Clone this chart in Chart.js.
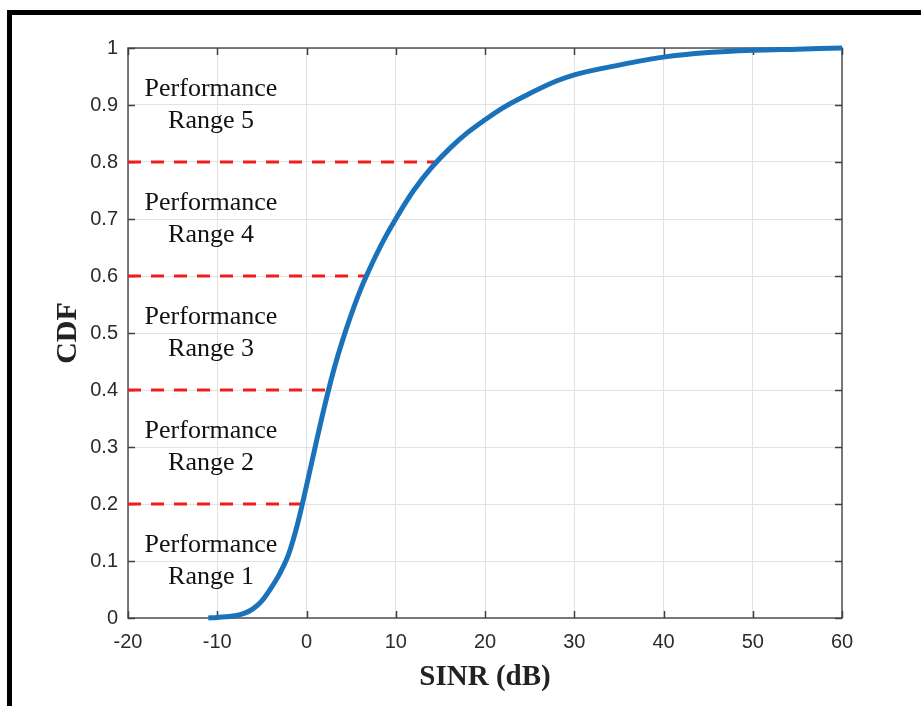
<!DOCTYPE html>
<html>
<head>
<meta charset="utf-8">
<script src="https://cdn.jsdelivr.net/npm/chart.js@4.4.1/dist/chart.umd.min.js"></script>
<style>
  html, body { margin: 0; padding: 0; background: #fff; }
  #wrap { position: relative; width: 921px; height: 706px; }
  #frameTop { position: absolute; left: 7px; top: 10px; width: 914px; height: 5px; background: #000; }
  #frameLeft { position: absolute; left: 7px; top: 10px; width: 5px; height: 696px; background: #000; }
  canvas { position: absolute; left: 0; top: 0; }
</style>
</head>
<body>
<div id="wrap">
  <canvas id="c" width="921" height="706"></canvas>
  <div id="frameTop"></div>
  <div id="frameLeft"></div>
</div>
<script>
// ---- data ----
const sinrDb = [-11, -10, -8, -7, -6, -5, -4, -3, -2, -1, 0, 1, 2, 3, 4, 5, 6, 7, 8, 9, 10, 11, 12, 14, 16, 18, 20, 22, 25, 28, 30, 35, 40, 45, 50, 55, 60];
const cdfValues = [0, 0.001, 0.004, 0.008, 0.016, 0.03, 0.052, 0.078, 0.112, 0.165, 0.232, 0.302, 0.37, 0.432, 0.485, 0.532, 0.574, 0.61, 0.643, 0.673, 0.70, 0.726, 0.75, 0.79, 0.823, 0.851, 0.874, 0.895, 0.92, 0.942, 0.953, 0.97, 0.984, 0.992, 0.996, 0.998, 1.0];
const thresholdLevels = [0.2, 0.4, 0.6, 0.8];
const thresholdCrossSinr = [-0.6, 2.4, 6.7, 14.4];
const rangeLabels = ["Range 1", "Range 2", "Range 3", "Range 4", "Range 5"];
const rangeCenters = [0.1, 0.3, 0.5, 0.7, 0.9];
const xTicks = [-20, -10, 0, 10, 20, 30, 40, 50, 60];
const yTicks = [0, 0.1, 0.2, 0.3, 0.4, 0.5, 0.6, 0.7, 0.8, 0.9, 1];

const xMin = -20, xMax = 60, yMin = 0, yMax = 1;
const labelX = -10.7;

const curveData = sinrDb.map((x, i) => ({ x: x, y: cdfValues[i] }));
const datasets = [{
  data: curveData,
  borderColor: '#1a72bb',
  borderWidth: 5,
  pointRadius: 0,
  cubicInterpolationMode: 'monotone',
  clip: 6,
  borderCapStyle: 'butt'
}];
thresholdLevels.forEach((t, i) => {
  datasets.push({
    data: [{ x: xMin, y: t }, { x: thresholdCrossSinr[i], y: t }],
    borderColor: '#f21c1c',
    borderWidth: 3,
    borderDash: [13, 10],
    pointRadius: 0,
    tension: 0
  });
});

const boxPlugin = {
  id: 'box',
  beforeDatasetsDraw(chart) {
    const { ctx, chartArea: a } = chart;
    const xs = chart.scales.x, ys = chart.scales.y;
    ctx.save();
    ctx.strokeStyle = '#505050';
    ctx.lineWidth = 1.5;
    ctx.strokeRect(a.left, a.top, a.right - a.left, a.bottom - a.top);
    ctx.lineWidth = 1.5;
    ctx.strokeStyle = '#404040';
    const tl = 7;
    ctx.beginPath();
    xTicks.forEach(v => {
      const px = Math.round(xs.getPixelForValue(v)) + 0.5;
      ctx.moveTo(px, a.bottom); ctx.lineTo(px, a.bottom - tl);
      ctx.moveTo(px, a.top); ctx.lineTo(px, a.top + tl);
    });
    yTicks.forEach(v => {
      const py = Math.round(ys.getPixelForValue(v)) + 0.5;
      ctx.moveTo(a.left, py); ctx.lineTo(a.left + tl, py);
      ctx.moveTo(a.right, py); ctx.lineTo(a.right - tl, py);
    });
    ctx.stroke();
    ctx.restore();
  },
  afterDatasetsDraw(chart) {
    const { ctx } = chart;
    const xs = chart.scales.x, ys = chart.scales.y;
    ctx.save();
    ctx.fillStyle = '#111';
    ctx.font = '26px "Liberation Serif", "Times New Roman", serif';
    ctx.textAlign = 'center';
    ctx.textBaseline = 'middle';
    rangeCenters.forEach((c, i) => {
      const px = xs.getPixelForValue(labelX);
      const py = ys.getPixelForValue(c);
      ctx.fillText('Performance', px, py - 16);
      ctx.fillText(rangeLabels[i], px, py + 16);
    });
    ctx.restore();
  }
};

new Chart(document.getElementById('c'), {
  type: 'line',
  data: { datasets: datasets },
  plugins: [boxPlugin],
  options: {
    responsive: false,
    devicePixelRatio: 1,
    animation: false,
    layout: { padding: { left: 0, top: 48, right: 79, bottom: 0 } },
    plugins: { legend: { display: false }, tooltip: { enabled: false } },
    scales: {
      x: {
        type: 'linear',
        min: xMin, max: xMax,
        afterBuildTicks: s => { s.ticks = xTicks.map(v => ({ value: v })); },
        afterFit: s => { s.height = 88; },
        grid: { color: '#e2e2e2', lineWidth: 1, drawTicks: false },
        border: { display: false },
        ticks: { color: '#2b2b2b', font: { family: '"Liberation Sans", Arial, sans-serif', size: 20 }, padding: 12, maxRotation: 0 },
        title: { display: true, text: 'SINR (dB)', color: '#222', font: { family: '"Liberation Serif", "Times New Roman", serif', size: 29, weight: 'bold' }, padding: { top: 0, bottom: 11 } }
      },
      y: {
        type: 'linear',
        min: yMin, max: yMax,
        afterBuildTicks: s => { s.ticks = yTicks.map(v => ({ value: v })); },
        afterFit: s => { s.width = 128; },
        grid: { color: '#e2e2e2', lineWidth: 1, drawTicks: false },
        border: { display: false },
        ticks: { color: '#2b2b2b', font: { family: '"Liberation Sans", Arial, sans-serif', size: 20 }, padding: 10, callback: v => String(Math.round(v * 10) / 10) },
        title: { display: true, text: 'CDF', color: '#222', font: { family: '"Liberation Serif", "Times New Roman", serif', size: 30, weight: 'bold' }, padding: { top: 50, bottom: 0 } }
      }
    }
  }
});
</script>
</body>
</html>
